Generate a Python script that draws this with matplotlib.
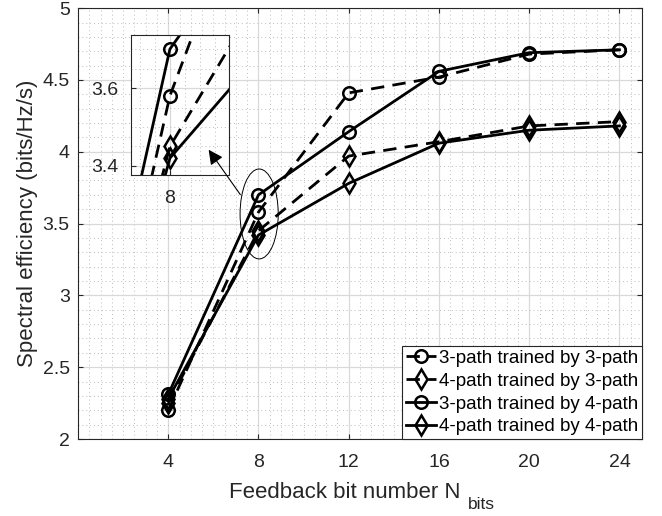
import matplotlib
matplotlib.use("Agg")
import matplotlib.pyplot as plt
from matplotlib.patches import Ellipse
from matplotlib.ticker import MultipleLocator, FormatStrFormatter

plt.rcParams['font.family'] = ['Liberation Sans', 'DejaVu Sans']

# feedback bits and spectral efficiency
n_bits = [4, 8, 12, 16, 20, 24]
se_3_by_3 = [2.20, 3.58, 4.41, 4.52, 4.68, 4.71]
se_4_by_3 = [2.25, 3.45, 3.97, 4.07, 4.18, 4.21]
se_3_by_4 = [2.31, 3.70, 4.14, 4.56, 4.69, 4.71]
se_4_by_4 = [2.28, 3.42, 3.78, 4.06, 4.15, 4.18]

labels = ["3-path trained by 3-path", "4-path trained by 3-path",
          "3-path trained by 4-path", "4-path trained by 4-path"]
series = [se_3_by_3, se_4_by_3, se_3_by_4, se_4_by_4]
dash = (0, (4.8, 3.0))
styles = [(dash, 'o'), (dash, 'd'), ('-', 'o'), ('-', 'd')]


def draw_lines(ax):
    handles = []
    for y, (ls, mk), lab in zip(series, styles, labels):
        h, = ax.plot(n_bits, y, color='k', linestyle=ls, linewidth=2.0,
                     marker=mk, markersize=9 if mk == 'o' else 10.5,
                     markerfacecolor='none', markeredgewidth=1.8, label=lab)
        handles.append(h)
    return handles


def style_grid(ax):
    ax.grid(True, which='major', color='#d9d9d9', linewidth=0.9, linestyle='-')
    ax.grid(True, which='minor', color='#bdbdbd', linewidth=0.7, linestyle=(0, (1, 3)))
    ax.set_axisbelow(True)
    ax.tick_params(which='both', direction='in', top=True, right=True,
                   labelsize=14, colors='#262626')
    ax.tick_params(axis='x', pad=11)
    ax.tick_params(axis='y', pad=6)
    ax.tick_params(which='minor', length=0)
    for s in ax.spines.values():
        s.set_color('#262626')
        s.set_linewidth(0.8)


fig = plt.figure(figsize=(6.62, 5.16), dpi=100)
ax = fig.add_axes([0.1178, 0.1492, 0.852, 0.835])
handles = draw_lines(ax)
ax.set_xlim(0, 25)
ax.set_ylim(2, 5)
ax.set_xticks(n_bits)
ax.yaxis.set_major_locator(MultipleLocator(0.5))
ax.yaxis.set_major_formatter(FormatStrFormatter('%g'))
ax.xaxis.set_minor_locator(MultipleLocator(0.5))
ax.yaxis.set_minor_locator(MultipleLocator(0.1))
style_grid(ax)
ax.set_ylabel("Spectral efficiency (bits/Hz/s)", fontsize=16, labelpad=3,
              color='#262626')

# x label with a MATLAB-style subscript
fig.text(229 / 662, 1 - 498 / 516, "Feedback bit number N", fontsize=16,
         ha='left', va='baseline', color='#262626')
fig.text(468 / 662, 1 - 509 / 516, "bits", fontsize=12.5,
         ha='left', va='baseline', color='#262626')

leg = ax.legend(handles=handles, loc='lower right', borderaxespad=0,
                fontsize=13.5, fancybox=False, framealpha=1, edgecolor='#262626',
                handlelength=1.6, handletextpad=0.15, labelspacing=0.3,
                borderpad=0.2)
leg.get_frame().set_linewidth(0.8)

# zoom region marker
ax.add_patch(Ellipse((8.03, 3.567), 1.69, 0.626, fill=False,
                     edgecolor='k', linewidth=0.7))

# inset
axin = fig.add_axes([0.198, 0.661, 0.148, 0.271])
draw_lines(axin)
axin.set_xlim(6.72, 9.95)
axin.set_ylim(3.377, 3.736)
axin.set_xticks([8])
axin.set_yticks([3.4, 3.6])
axin.yaxis.set_major_formatter(FormatStrFormatter('%g'))
axin.xaxis.set_minor_locator(MultipleLocator(0.5))
axin.yaxis.set_minor_locator(MultipleLocator(0.05))
style_grid(axin)
axin.tick_params(top=False, right=False)
axin.tick_params(axis='y', pad=9)

# arrow from the ellipse into the inset, drawn above the inset
axin.annotate('', xy=(5.72, 4.03), xycoords=ax.transData,
              xytext=(7.27, 3.685), textcoords=ax.transData,
              annotation_clip=False,
              arrowprops=dict(arrowstyle='-|>', color='k', lw=0.8,
                              mutation_scale=22))

fig.savefig("out.png", dpi=100)
